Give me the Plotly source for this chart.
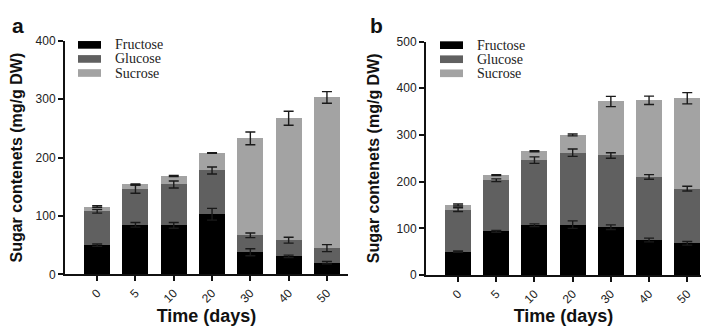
import numpy as np
import plotly.graph_objects as go

days = ["0", "5", "10", "20", "30", "40", "50"]

# Panel a (segment values, mg/g DW)
a_fructose = [50, 85, 84, 103, 38, 31, 20]
a_glucose = [58, 61, 70, 75, 29, 27.5, 25]
a_sucrose = [8, 8, 14.5, 30, 166, 209, 258]
a_fructose_err = [2, 4, 5, 10, 6, 2, 2]
a_glucose_err = [3, 7, 6, 6, 4, 5, 6]
a_sucrose_err = [1.5, 1, 1, 0.5, 11, 12, 10]

# Panel b
b_fructose = [50, 93.6, 106.6, 108, 102.5, 75, 68]
b_glucose = [90, 109.4, 139.4, 154, 153.5, 135, 117]
b_sucrose = [10, 11, 19, 38, 115.6, 164, 193.5]
b_fructose_err = [1.5, 2, 3, 8, 5, 4, 4]
b_glucose_err = [4, 3, 7, 8, 6, 5, 5]
b_sucrose_err = [2, 1, 1, 2, 11, 9, 12]

names = ["Fructose", "Glucose", "Sucrose"]
colors = ["#000000", "#606060", "#a3a3a3"]

fig = go.Figure()

def add_panel(vals, errs, xa, ya):
    for v, n, c in zip(vals, names, colors):
        fig.add_trace(go.Bar(
            x=days, y=v, name=n, marker=dict(color=c, line=dict(width=0)),
            xaxis=xa, yaxis=ya, showlegend=False))
    # error bars drawn on top, at the cumulative top of each segment
    tops = np.cumsum(np.array(vals, dtype=float), axis=0)
    for t, e in zip(tops, errs):
        fig.add_trace(go.Scatter(
            x=days, y=t, mode="markers", marker=dict(size=1, opacity=0),
            error_y=dict(type="data", array=e, visible=True, color="#1a1a1a",
                         thickness=1.4, width=5),
            xaxis=xa, yaxis=ya, showlegend=False, hoverinfo="skip"))

add_panel([a_fructose, a_glucose, a_sucrose],
          [a_fructose_err, a_glucose_err, a_sucrose_err], "x", "y")
add_panel([b_fructose, b_glucose, b_sucrose],
          [b_fructose_err, b_glucose_err, b_sucrose_err], "x2", "y2")

W, H = 709, 327
def px(x): return x / W
def py(y): return 1 - y / H

tickfont = dict(family="Liberation Sans, Arial", size=12, color="#222222")
xtitlefont = dict(family="Liberation Sans, Arial", size=18, color="#111111", weight="bold")
ytitlefont = dict(family="Liberation Sans, Arial", size=16, color="#111111", weight="bold")

xcommon = dict(type="category", showline=True, linecolor="#111111", linewidth=2,
               ticks="outside", ticklen=5, tickwidth=2, tickcolor="#111111",
               tickangle=-45, tickfont=tickfont, showgrid=False, zeroline=False,
               title=dict(text="Time (days)", font=xtitlefont, standoff=4))
ycommon = dict(showline=True, linecolor="#111111", linewidth=2,
               ticks="outside", ticklen=5, tickwidth=2, tickcolor="#111111",
               tickfont=tickfont, showgrid=False, zeroline=False,
               title=dict(text="Sugar contenets (mg/g DW)", font=ytitlefont, standoff=13))

fig.update_layout(
    width=W, height=H, margin=dict(l=0, r=0, t=0, b=0),
    paper_bgcolor="white", plot_bgcolor="white",
    barmode="stack", bargap=0.32,
    xaxis=dict(xcommon, domain=[px(57), px(340)], anchor="y", range=[-0.84, 6.55]),
    yaxis=dict(ycommon, domain=[py(271), py(27)], anchor="x", range=[0, 400],
               tickvals=[0, 100, 200, 300, 400]),
    xaxis2=dict(xcommon, domain=[px(418), px(693)], anchor="y2", range=[-0.84, 6.36]),
    yaxis2=dict(ycommon, domain=[py(271.7), py(27.7)], anchor="x2", range=[0, 500],
                tickvals=[0, 100, 200, 300, 400, 500]),
)

# panel letters
for txt, x in [("a", 2), ("b", 360)]:
    fig.add_annotation(text=txt, x=px(x), y=1.01, xref="paper", yref="paper",
                       xanchor="left", yanchor="top", showarrow=False,
                       font=dict(family="Liberation Sans, Arial", size=21,
                                 color="#111111", weight="bold"))

# legends (swatches + text)
legend_font = dict(family="Liberation Serif, Times New Roman", size=14, color="#222222")
for (sx, tx, rows) in [(70, 106, [31.2, 45.9, 60.6]), (432, 468, [31.5, 46.2, 60.9])]:
    for n, c, yc in zip(names, colors, rows):
        fig.add_shape(type="rect", xref="paper", yref="paper",
                      x0=px(sx), x1=px(sx + 23), y0=py(yc + 4), y1=py(yc - 4),
                      fillcolor=c, line=dict(width=0))
        fig.add_annotation(text=n, x=px(tx), y=py(yc), xref="paper", yref="paper",
                           xanchor="left", yanchor="middle", showarrow=False,
                           borderpad=0, font=legend_font)

fig.write_html("out.html")
